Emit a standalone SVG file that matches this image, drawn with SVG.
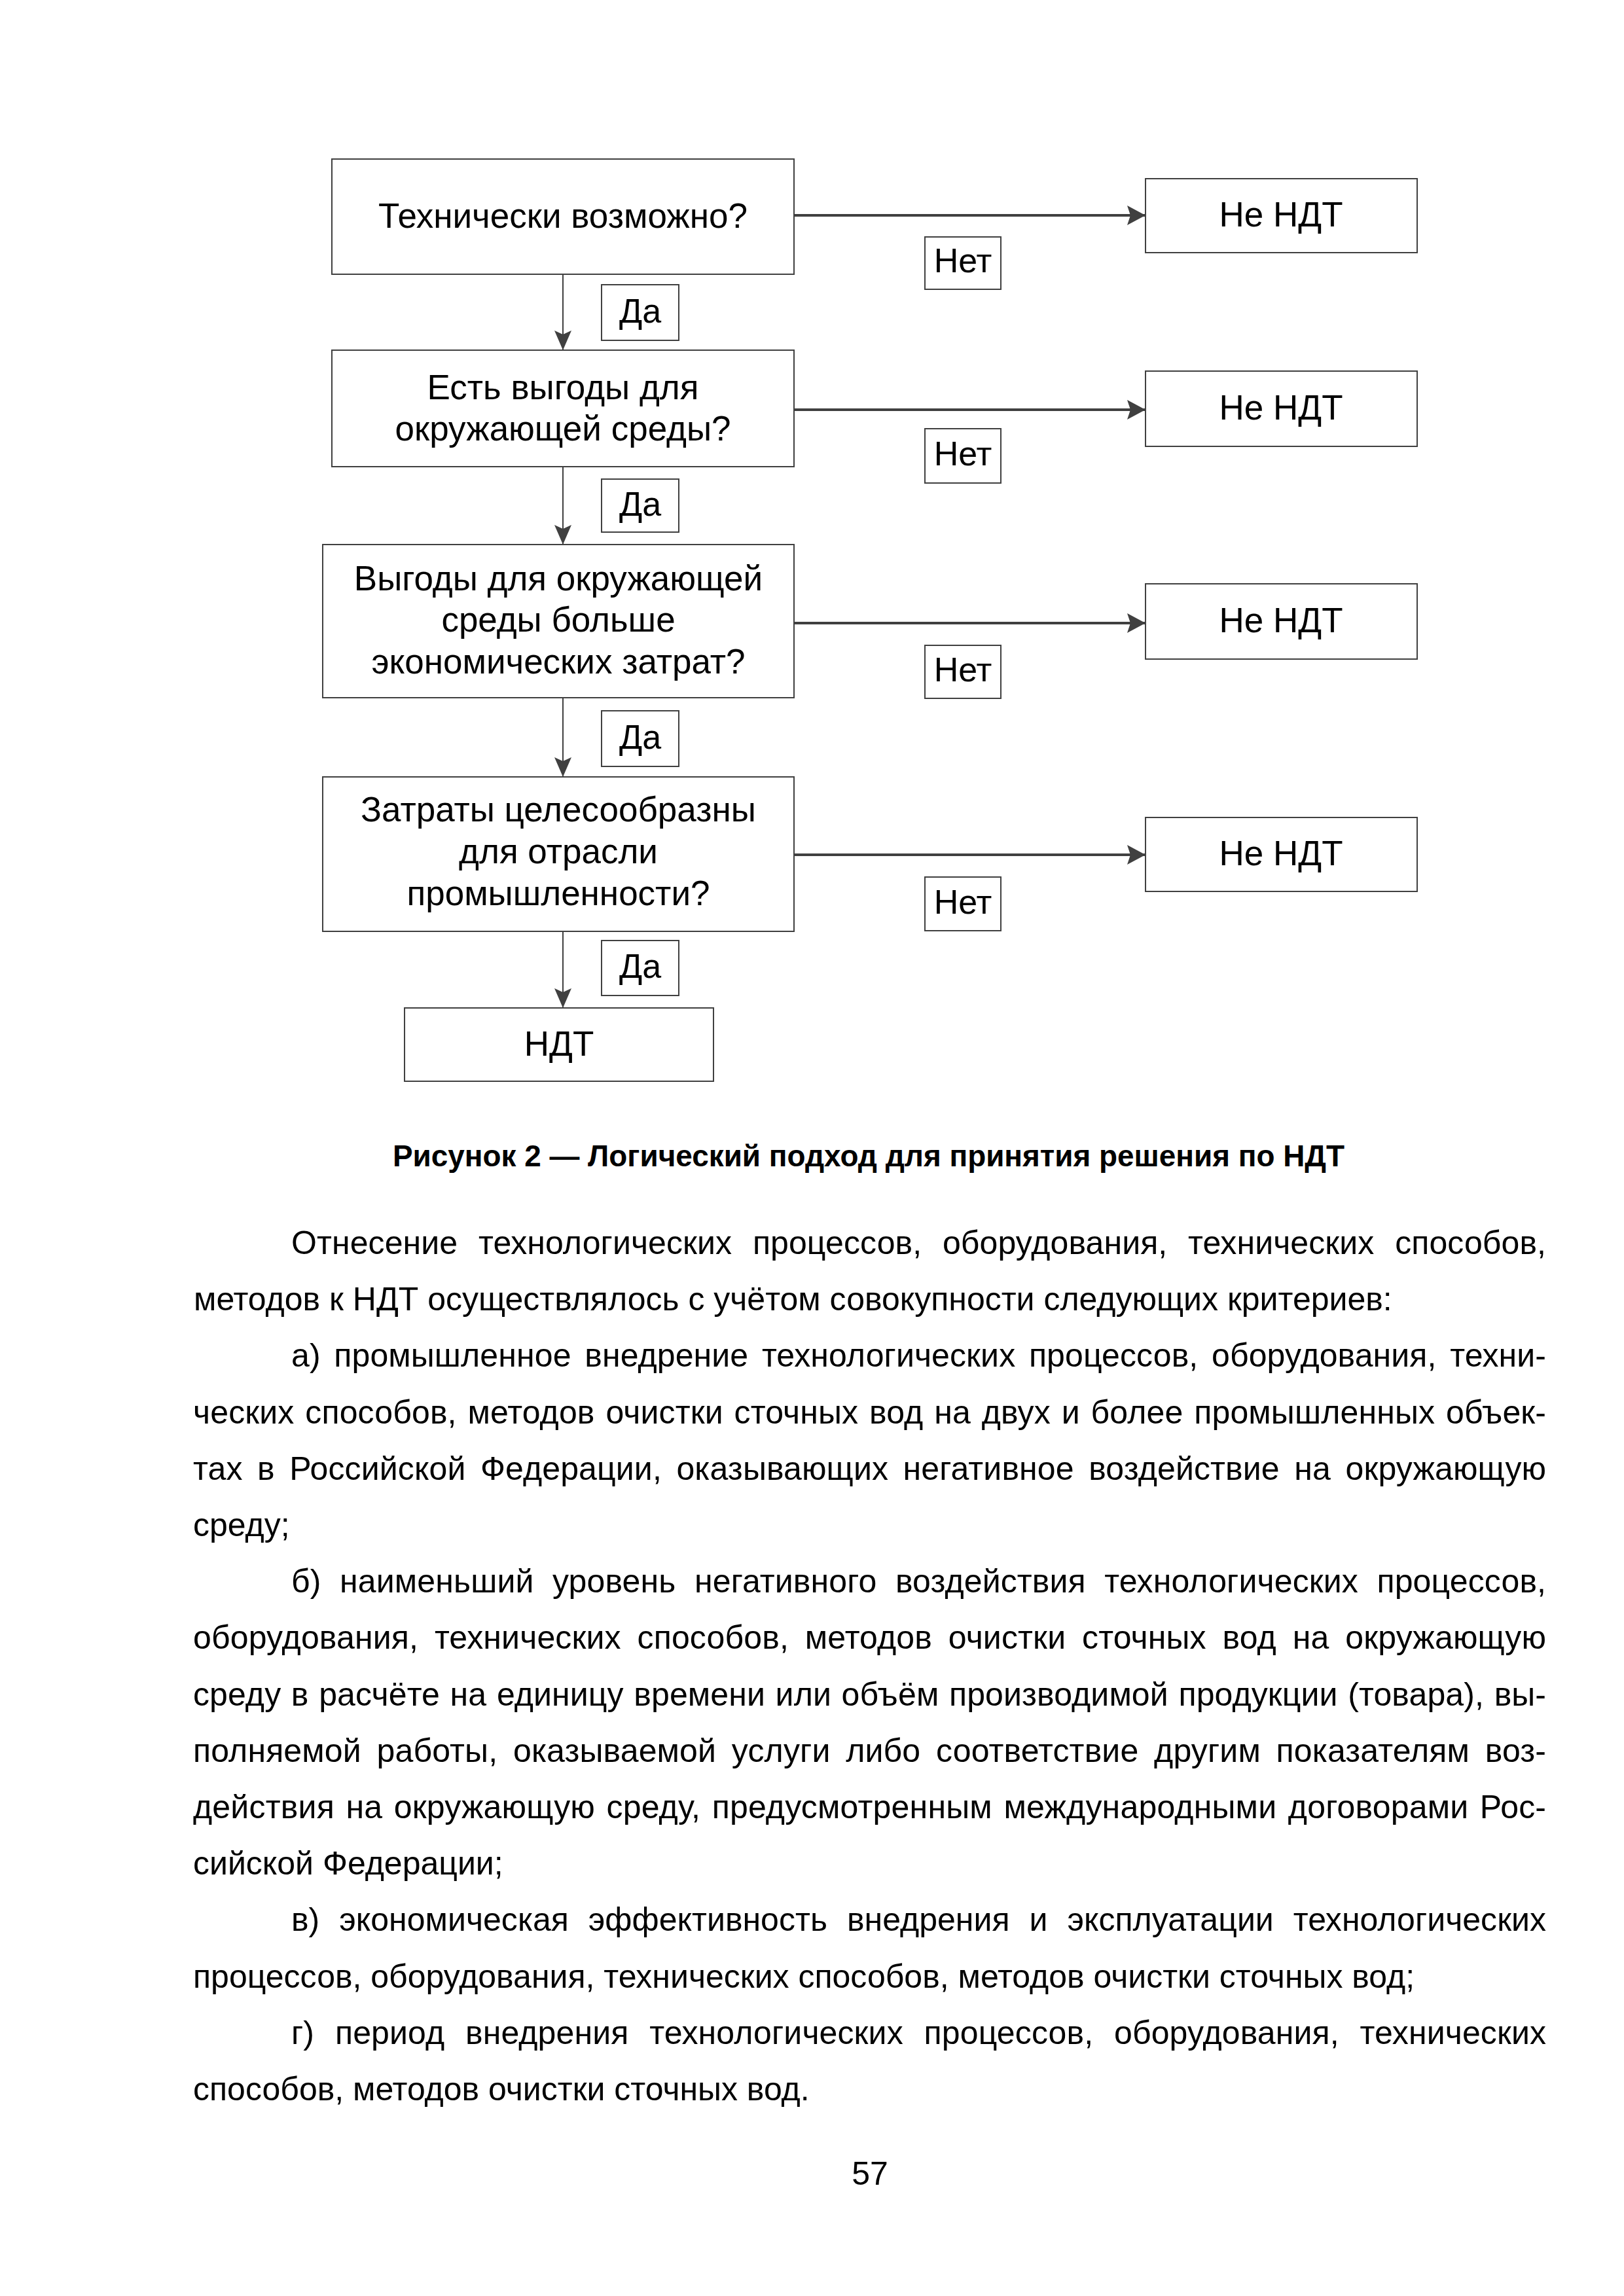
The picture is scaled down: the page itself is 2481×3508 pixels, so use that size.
<svg xmlns="http://www.w3.org/2000/svg" width="2481" height="3508" viewBox="0 0 2481 3508">
<style>
.box{fill:#fff;stroke:#404040;stroke-width:2}
.t{font-family:"Liberation Sans",Arial,sans-serif;font-size:53px;fill:#000;text-anchor:middle}
.lbl{font-family:"Liberation Sans",Arial,sans-serif;font-size:52px;fill:#000;text-anchor:middle}
.h{stroke:#404040;stroke-width:4;fill:none}
.v{stroke:#404040;stroke-width:2;fill:none}
.body{font-family:"Liberation Sans",Arial,sans-serif;font-size:50px;fill:#000}
.cap{font-family:"Liberation Sans",Arial,sans-serif;font-size:46px;font-weight:bold;fill:#000;text-anchor:middle}
</style>
<defs>
<marker id="ah" markerUnits="userSpaceOnUse" markerWidth="32" markerHeight="34" refX="30" refY="16" orient="auto" viewBox="0 0 32 34">
<path d="M30,16 L2,1 L7,16 L2,31 Z" fill="#404040"/>
</marker>
<marker id="av" markerUnits="userSpaceOnUse" markerWidth="32" markerHeight="30" refX="30" refY="14" orient="auto" viewBox="0 0 32 30">
<path d="M30,14 L0,1 L6,14 L0,27 Z" fill="#404040"/>
</marker>
</defs>
<rect width="2481" height="3508" fill="#fff"/>

<g id="connectors">
<line class="h" x1="1213" y1="329" x2="1750" y2="329" marker-end="url(#ah)"/>
<line class="h" x1="1213" y1="626" x2="1750" y2="626" marker-end="url(#ah)"/>
<line class="h" x1="1213" y1="952" x2="1750" y2="952" marker-end="url(#ah)"/>
<line class="h" x1="1213" y1="1306" x2="1750" y2="1306" marker-end="url(#ah)"/>
<line class="v" x1="860" y1="419" x2="860" y2="535" marker-end="url(#av)"/>
<line class="v" x1="860" y1="713" x2="860" y2="832" marker-end="url(#av)"/>
<line class="v" x1="860" y1="1066" x2="860" y2="1187" marker-end="url(#av)"/>
<line class="v" x1="860" y1="1423" x2="860" y2="1540" marker-end="url(#av)"/>
</g>

<g id="q1"><rect class="box" x="507" y="243" width="706" height="176"/><text class="t" x="860" y="348">Технически возможно?</text></g>
<g id="q2"><rect class="box" x="507" y="535" width="706" height="178"/><text class="t" x="860" y="610">Есть выгоды для</text><text class="t" x="860" y="673">окружающей среды?</text></g>
<g id="q3"><rect class="box" x="493" y="832" width="720" height="234"/><text class="t" x="853" y="902">Выгоды для окружающей</text><text class="t" x="853" y="965">среды больше</text><text class="t" x="853" y="1029">экономических затрат?</text></g>
<g id="q4"><rect class="box" x="493" y="1187" width="720" height="236"/><text class="t" x="853" y="1255">Затраты целесообразны</text><text class="t" x="853" y="1319">для отрасли</text><text class="t" x="853" y="1383">промышленности?</text></g>
<g id="ndt"><rect class="box" x="618" y="1540" width="472" height="112"/><text class="t" x="854" y="1613">НДТ</text></g>

<g id="no1"><rect class="box" x="1750" y="273" width="415" height="113"/><text class="t" x="1957" y="346">Не НДТ</text></g>
<g id="no2"><rect class="box" x="1750" y="567" width="415" height="115"/><text class="t" x="1957" y="641">Не НДТ</text></g>
<g id="no3"><rect class="box" x="1750" y="892" width="415" height="115"/><text class="t" x="1957" y="966">Не НДТ</text></g>
<g id="no4"><rect class="box" x="1750" y="1249" width="415" height="113"/><text class="t" x="1957" y="1322">Не НДТ</text></g>

<g id="net1"><rect class="box" x="1413" y="362" width="116" height="80"/><text class="lbl" x="1471" y="416">Нет</text></g>
<g id="net2"><rect class="box" x="1413" y="655" width="116" height="83"/><text class="lbl" x="1471" y="711">Нет</text></g>
<g id="net3"><rect class="box" x="1413" y="986" width="116" height="81"/><text class="lbl" x="1471" y="1041">Нет</text></g>
<g id="net4"><rect class="box" x="1413" y="1340" width="116" height="82"/><text class="lbl" x="1471" y="1396">Нет</text></g>

<g id="da1"><rect class="box" x="919" y="435" width="118" height="85"/><text class="lbl" x="978" y="493">Да</text></g>
<g id="da2"><rect class="box" x="919" y="732" width="118" height="81"/><text class="lbl" x="978" y="788">Да</text></g>
<g id="da3"><rect class="box" x="919" y="1086" width="118" height="85"/><text class="lbl" x="978" y="1144">Да</text></g>
<g id="da4"><rect class="box" x="919" y="1437" width="118" height="84"/><text class="lbl" x="978" y="1494">Да</text></g>

<text class="cap" x="1327" y="1782" textLength="1454" lengthAdjust="spacingAndGlyphs">Рисунок 2 — Логический подход для принятия решения по НДТ</text>

<g id="body" class="body">
<text x="445" y="1916" word-spacing="17.8" textLength="1917" lengthAdjust="spacing">Отнесение технологических процессов, оборудования, технических способов,</text>
<text x="296" y="2002">методов к НДТ осуществлялось с учётом совокупности следующих критериев:</text>
<text x="445" y="2088" word-spacing="6.7" textLength="1917" lengthAdjust="spacing">а) промышленное внедрение технологических процессов, оборудования, техни-</text>
<text x="295" y="2175" word-spacing="2.8" textLength="2067" lengthAdjust="spacing">ческих способов, методов очистки сточных вод на двух и более промышленных объек-</text>
<text x="295" y="2261" word-spacing="8.5" textLength="2067" lengthAdjust="spacing">тах в Российской Федерации, оказывающих негативное воздействие на окружающую</text>
<text x="295" y="2347">среду;</text>
<text x="445" y="2433" word-spacing="14.5" textLength="1917" lengthAdjust="spacing">б) наименьший уровень негативного воздействия технологических процессов,</text>
<text x="295" y="2519" word-spacing="10.8" textLength="2067" lengthAdjust="spacing">оборудования, технических способов, методов очистки сточных вод на окружающую</text>
<text x="295" y="2606" word-spacing="1.6" textLength="2067" lengthAdjust="spacing">среду в расчёте на единицу времени или объём производимой продукции (товара), вы-</text>
<text x="295" y="2692" word-spacing="9.7" textLength="2067" lengthAdjust="spacing">полняемой работы, оказываемой услуги либо соответствие другим показателям воз-</text>
<text x="295" y="2778" word-spacing="3.4" textLength="2067" lengthAdjust="spacing">действия на окружающую среду, предусмотренным международными договорами Рос-</text>
<text x="295" y="2864">сийской Федерации;</text>
<text x="445" y="2950" word-spacing="16" textLength="1917" lengthAdjust="spacing">в) экономическая эффективность внедрения и эксплуатации технологических</text>
<text x="295" y="3037">процессов, оборудования, технических способов, методов очистки сточных вод;</text>
<text x="445" y="3123" word-spacing="17.8" textLength="1917" lengthAdjust="spacing">г) период внедрения технологических процессов, оборудования, технических</text>
<text x="295" y="3209">способов, методов очистки сточных вод.</text>
</g>
<text class="body" x="1329" y="3338" text-anchor="middle">57</text>
</svg>
